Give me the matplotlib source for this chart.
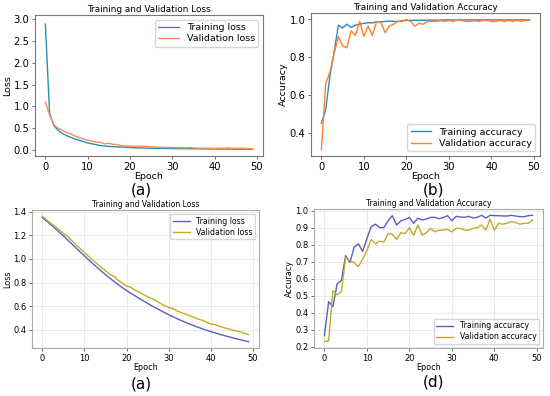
import numpy as np
import matplotlib
matplotlib.use("Agg")
import matplotlib.pyplot as plt

epochs = np.arange(50)

# (a) top: loss
loss_a_train = [2.89, 0.85, 0.56, 0.45, 0.38, 0.33, 0.29, 0.25, 0.22, 0.19,
                0.16, 0.14, 0.12, 0.10, 0.09, 0.08, 0.075, 0.07, 0.065, 0.06,
                0.055, 0.05, 0.048, 0.045, 0.042, 0.04, 0.038, 0.036, 0.034, 0.032,
                0.031, 0.03, 0.029, 0.028, 0.027, 0.026, 0.025, 0.024, 0.023, 0.022,
                0.021, 0.02, 0.02, 0.019, 0.018, 0.018, 0.017, 0.017, 0.016, 0.016]
loss_a_val = [1.10, 0.80, 0.58, 0.50, 0.45, 0.40, 0.37, 0.32, 0.28, 0.25,
              0.22, 0.20, 0.18, 0.17, 0.14, 0.15, 0.13, 0.12, 0.10, 0.09,
              0.085, 0.08, 0.09, 0.085, 0.08, 0.07, 0.065, 0.06, 0.06, 0.055,
              0.055, 0.05, 0.05, 0.045, 0.05, 0.045, 0.04, 0.04, 0.04, 0.04,
              0.035, 0.04, 0.035, 0.045, 0.035, 0.04, 0.035, 0.035, 0.03, 0.03]

# (b) top: accuracy
acc_b_train = [0.45, 0.52, 0.70, 0.83, 0.97, 0.955, 0.975, 0.958, 0.97, 0.975,
               0.98, 0.983, 0.982, 0.988, 0.987, 0.99, 0.992, 0.99, 0.99, 0.993,
               0.995, 0.995, 0.996, 0.995, 0.996, 0.997, 0.997, 0.996, 0.997, 0.998,
               0.998, 0.997, 0.998, 0.998, 0.997, 0.998, 0.998, 0.998, 0.997, 0.998,
               0.998, 0.998, 0.998, 0.997, 0.998, 0.998, 0.998, 0.998, 0.998, 0.998]
acc_b_val = [0.31, 0.66, 0.72, 0.82, 0.91, 0.86, 0.85, 0.94, 0.915, 0.99,
             0.91, 0.965, 0.915, 0.99, 0.985, 0.93, 0.965, 0.975, 0.99, 0.99,
             1.0, 0.99, 0.965, 0.98, 0.975, 0.99, 0.99, 0.99, 0.995, 0.99,
             0.995, 0.99, 1.0, 0.995, 0.99, 0.99, 0.995, 0.99, 0.995, 0.995,
             0.99, 0.99, 0.995, 0.99, 0.995, 0.99, 0.995, 0.99, 0.995, 0.995]

# (a) bottom: loss
loss_c_train = [1.350, 1.320, 1.290, 1.258, 1.226, 1.194, 1.161, 1.127, 1.093, 1.059,
                1.025, 0.992, 0.960, 0.928, 0.897, 0.867, 0.838, 0.810, 0.783, 0.757,
                0.733, 0.710, 0.688, 0.666, 0.645, 0.624, 0.604, 0.584, 0.565, 0.546,
                0.528, 0.511, 0.495, 0.479, 0.464, 0.449, 0.435, 0.422, 0.409, 0.397,
                0.386, 0.375, 0.364, 0.354, 0.344, 0.335, 0.326, 0.317, 0.308, 0.300]
loss_c_val = [1.36, 1.33, 1.30, 1.275, 1.245, 1.215, 1.19, 1.155, 1.12, 1.088,
              1.054, 1.02, 0.99, 0.958, 0.93, 0.90, 0.87, 0.852, 0.82, 0.795,
              0.77, 0.76, 0.735, 0.72, 0.70, 0.68, 0.665, 0.645, 0.625, 0.605,
              0.59, 0.58, 0.56, 0.545, 0.533, 0.52, 0.505, 0.49, 0.482, 0.465,
              0.45, 0.445, 0.432, 0.42, 0.41, 0.40, 0.392, 0.383, 0.372, 0.36]

# (d) bottom: accuracy
acc_d_train = [0.265, 0.465, 0.435, 0.57, 0.59, 0.735, 0.695, 0.785, 0.805, 0.76,
               0.835, 0.905, 0.92, 0.90, 0.90, 0.94, 0.97, 0.915, 0.94, 0.948,
               0.96, 0.925, 0.955, 0.945, 0.95, 0.96, 0.96, 0.952, 0.96, 0.97,
               0.94, 0.966, 0.962, 0.96, 0.966, 0.956, 0.96, 0.972, 0.956, 0.972,
               0.97, 0.97, 0.968, 0.968, 0.972, 0.968, 0.964, 0.964, 0.97, 0.972]
acc_d_val = [0.23, 0.235, 0.53, 0.505, 0.525, 0.725, 0.705, 0.695, 0.67, 0.715,
             0.765, 0.83, 0.805, 0.82, 0.815, 0.865, 0.86, 0.83, 0.87, 0.865,
             0.90, 0.855, 0.915, 0.855, 0.87, 0.895, 0.875, 0.885, 0.885, 0.89,
             0.875, 0.895, 0.895, 0.885, 0.885, 0.895, 0.90, 0.915, 0.885, 0.95,
             0.885, 0.925, 0.92, 0.925, 0.935, 0.93, 0.92, 0.925, 0.925, 0.945]

W, H = 550, 396
fig = plt.figure(figsize=(W / 100, H / 100), dpi=100)


def make_axes(left, right, top, bottom):
    return fig.add_axes([left / W, 1 - bottom / H, (right - left) / W, (bottom - top) / H])


def decorate(ax, title, ylabel, legend_loc, sizes, spine_color, grid):
    tick_fs, title_fs, label_fs, leg_fs = sizes
    ax.set_xticks([0, 10, 20, 30, 40, 50])
    ax.set_title(title, fontsize=title_fs, pad=2)
    ax.set_xlabel('Epoch', fontsize=label_fs, labelpad=0)
    ax.set_ylabel(ylabel, fontsize=label_fs, labelpad=1)
    ax.legend(fontsize=leg_fs, loc=legend_loc, handlelength=2.2, borderpad=0.35,
              labelspacing=0.25, edgecolor='#cccccc')
    for s in ax.spines.values():
        s.set_color(spine_color)
        s.set_linewidth(0.8)
    ax.tick_params(labelsize=tick_fs, length=2.5, width=0.6, color='#555555', pad=1.5)
    if grid:
        ax.grid(True, color='#e6e6e6', linewidth=0.6)
        ax.set_axisbelow(True)


top_sizes = (7.2, 6.4, 6.8, 6.8)
bot_sizes = (6.0, 5.5, 5.8, 5.6)

# top left
ax1 = make_axes(35, 263, 15, 156)
ax1.plot(epochs, loss_a_train, color='#2591b4', lw=1.0, label='Training loss')
ax1.plot(epochs, loss_a_val, color='#ff8a5c', lw=1.0, label='Validation loss')
ax1.set_ylim(-0.14, 3.1)
decorate(ax1, 'Training and Validation Loss', 'Loss', 'upper right', top_sizes, '#777777', False)

# top right
ax2 = make_axes(311, 540, 13, 156)
ax2.plot(epochs, acc_b_train, color='#2a8cbd', lw=1.0, label='Training accuracy')
ax2.plot(epochs, acc_b_val, color='#ff7f2a', lw=1.0, label='Validation accuracy')
decorate(ax2, 'Training and Validation Accuracy', 'Accuracy', 'lower right', top_sizes, '#777777', False)

# bottom left
ax3 = make_axes(32, 259, 210, 348)
ax3.plot(epochs, loss_c_train, color='#5661c0', lw=1.0, label='Training loss')
ax3.plot(epochs, loss_c_val, color='#c4a92a', lw=1.0, label='Validation loss')
ax3.set_yticks([0.4, 0.6, 0.8, 1.0, 1.2, 1.4])
decorate(ax3, 'Training and Validation Loss', 'Loss', 'upper right', bot_sizes, '#aaaaaa', True)

# bottom right
ax4 = make_axes(314, 543, 209, 348)
ax4.plot(epochs, acc_d_train, color='#5661c0', lw=1.0, label='Training accuracy')
ax4.plot(epochs, acc_d_val, color='#c4a92a', lw=1.0, label='Validation accuracy')
ax4.set_yticks([0.2, 0.3, 0.4, 0.5, 0.6, 0.7, 0.8, 0.9, 1.0])
decorate(ax4, 'Training and Validation Accuracy', 'Accuracy', 'lower right', bot_sizes, '#aaaaaa', True)

# panel letters
for x, y, s in [(141, 190, '(a)'), (433, 190, '(b)'), (141, 384, '(a)'), (433, 382, '(d)')]:
    fig.text(x / W, 1 - y / H, s, fontsize=11, ha='center', va='center')

fig.savefig('out.png', dpi=100)
